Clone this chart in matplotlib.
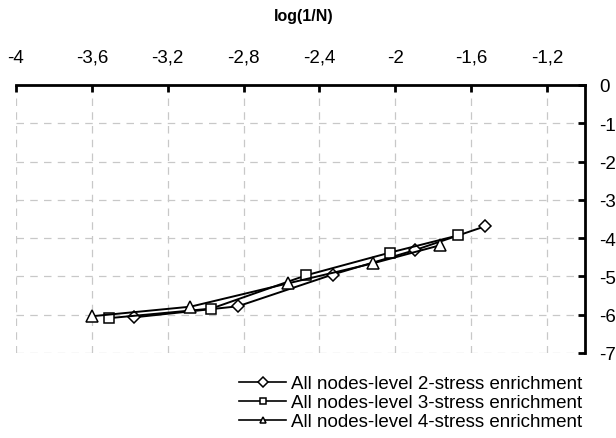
import matplotlib
matplotlib.use("Agg")
import matplotlib.pyplot as plt
from matplotlib.ticker import FuncFormatter

plt.rcParams['font.family'] = ['Liberation Sans', 'DejaVu Sans']

# Data
x_lvl2 = [-3.38, -2.83, -2.33, -1.895, -1.526]
y_lvl2 = [-6.07, -5.78, -4.95, -4.31, -3.69]
x_lvl3 = [-3.51, -2.97, -2.47, -2.03, -1.67]
y_lvl3 = [-6.09, -5.84, -4.97, -4.38, -3.93]
x_lvl4 = [-3.60, -3.08, -2.565, -2.12, -1.767]
y_lvl4 = [-6.04, -5.79, -5.18, -4.66, -4.19]
labels = ["All nodes-level 2-stress enrichment",
          "All nodes-level 3-stress enrichment",
          "All nodes-level 4-stress enrichment"]
x_ticks = [-4, -3.6, -3.2, -2.8, -2.4, -2.0, -1.6, -1.2]
y_ticks = [0, -1, -2, -3, -4, -5, -6, -7]
title = "log(1/N)"

W, H = 616, 439
fig = plt.figure(figsize=(W / 100, H / 100), dpi=100)
ax = fig.add_axes([16 / W, 1 - 354 / H, (585 - 16) / W, (354 - 86) / H])

common = dict(color='black', lw=1.4, markerfacecolor='white',
              markeredgecolor='black', markeredgewidth=1.1)
ax.plot(x_lvl2, y_lvl2, marker='D', ms=6, label=labels[0], **common)
ax.plot(x_lvl3, y_lvl3, marker='s', ms=7, label=labels[1], **common)
ax.plot(x_lvl4, y_lvl4, marker='^', ms=8, label=labels[2], **common)

ax.set_xlim(-4, -1.0)
ax.set_ylim(-7, 0)
ax.set_xticks(x_ticks)
ax.set_yticks(y_ticks)

fmt = FuncFormatter(lambda v, p: ('%g' % round(v, 2)).replace('.', ','))
ax.xaxis.set_major_formatter(fmt)
ax.yaxis.set_major_formatter(fmt)

ax.xaxis.tick_top()
ax.yaxis.tick_right()
ax.tick_params(axis='both', direction='in', length=5, width=2, labelsize=13.5, colors='black')
ax.tick_params(axis='x', pad=14)
ax.tick_params(axis='y', pad=10)

for s in ['left', 'bottom']:
    ax.spines[s].set_visible(False)
for s in ['top', 'right']:
    ax.spines[s].set_linewidth(2.0)

ax.grid(True, color='#c8c8c8', linestyle=(0, (6, 5)), linewidth=0.9)
ax.set_axisbelow(True)

fig.text(304 / W, 1 - 17 / H, title, fontsize=11.5, fontweight='bold',
         ha='center', va='center')

leg = fig.legend(loc='upper right', bbox_to_anchor=(582 / W, 1 - 376 / H), frameon=False,
                 fontsize=13.5, handlelength=2.5, handletextpad=0.25,
                 labelspacing=0.1, borderaxespad=0.0, borderpad=0.0)
for h in leg.legend_handles:
    h.set_markersize(5)
    h.set_linewidth(1.2)

fig.savefig('out.png', dpi=100)
